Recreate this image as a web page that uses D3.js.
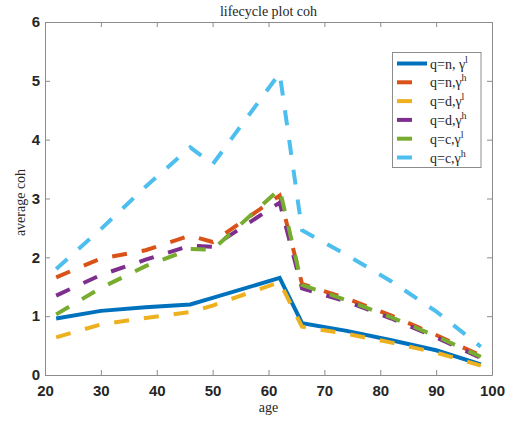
<!DOCTYPE html>
<html>
<head>
<meta charset="utf-8">
<script src="https://cdn.jsdelivr.net/npm/d3@7"></script>
<style>
  body { margin: 0; background: #fff; }
  .tick text { font-family: "Liberation Sans", Arial, sans-serif; font-weight: bold; font-size: 15px; fill: #262626; }
  .tick line, .domain { stroke: #8c8c8c; }
</style>
</head>
<body>
<svg id="chart" width="515" height="421"></svg>
<script>
// ages at which the model is reported
const ages = [22, 30, 38, 46, 50, 62, 66, 74, 82, 90, 98];

// average coh per group
const nLow  = [0.96, 1.09, 1.15, 1.20, 1.31, 1.65, 0.88, 0.75, 0.59, 0.42, 0.18];
const nHigh = [1.66, 1.98, 2.12, 2.37, 2.26, 3.05, 1.55, 1.30, 1.01, 0.68, 0.33];
const dLow  = [0.64, 0.86, 0.97, 1.07, 1.18, 1.58, 0.82, 0.70, 0.55, 0.38, 0.16];
const dHigh = [1.35, 1.70, 1.96, 2.20, 2.18, 2.93, 1.47, 1.25, 0.96, 0.64, 0.29];
const cLow  = [1.03, 1.48, 1.85, 2.14, 2.13, 3.16, 1.53, 1.27, 0.98, 0.66, 0.31];
const cHigh = [1.80, 2.48, 3.20, 3.87, 3.58, 5.13, 2.46, 2.04, 1.59, 1.08, 0.48];

const labels = [["q=n, γ", "l"], ["q=n,γ", "h"], ["q=d,γ", "l"], ["q=d,γ", "h"], ["q=c,γ", "l"], ["q=c,γ", "h"]];
const colors = ["#0072BD", "#D95319", "#EDB120", "#7E2F8E", "#77AC30", "#4DBEEE"];
const dashed = [false, true, true, true, true, true];

const xTicks = [20, 30, 40, 50, 60, 70, 80, 90, 100];
const yTicks = [0, 1, 2, 3, 4, 5, 6];

const series = [nLow, nHigh, dLow, dHigh, cLow, cHigh].map((vals, i) => ({
  label: labels[i], color: colors[i], dashed: dashed[i],
  points: ages.map((a, j) => ({ age: a, v: vals[j] }))
}));

const mLeft = 45, mRight = 492, mTop = 22, mBottom = 375;
const svg = d3.select("#chart");

const x = d3.scaleLinear().domain([20, 100]).range([mLeft, mRight]);
const y = d3.scaleLinear().domain([0, 6]).range([mBottom, mTop]);

// axes with inward ticks on all four sides
svg.append("g").attr("transform", `translate(0,${mBottom})`)
  .call(d3.axisBottom(x).tickValues(xTicks).tickFormat(d3.format("d"))
    .tickSizeInner(-5).tickSizeOuter(0).tickPadding(10));
svg.append("g").attr("transform", `translate(${mLeft},0)`)
  .call(d3.axisLeft(y).tickValues(yTicks).tickFormat(d3.format("d"))
    .tickSizeInner(-5).tickSizeOuter(0).tickPadding(5));
svg.append("g").attr("transform", `translate(0,${mTop})`)
  .call(d3.axisTop(x).tickValues(xTicks).tickSizeInner(-5).tickSizeOuter(0).tickFormat(""));
svg.append("g").attr("transform", `translate(${mRight},0)`)
  .call(d3.axisRight(y).tickValues(yTicks).tickSizeInner(-5).tickSizeOuter(0).tickFormat(""));

const line = d3.line().x(d => x(d.age)).y(d => y(d.v));

svg.append("g").selectAll("path")
  .data(series)
  .enter()
  .append("path")
  .attr("d", d => line(d.points))
  .attr("fill", "none")
  .attr("stroke", d => d.color)
  .attr("stroke-width", 4)
  .attr("stroke-dasharray", d => d.dashed ? "15,15" : null);

// titles
svg.append("text")
  .attr("x", (mLeft + mRight) / 2).attr("y", 16)
  .attr("text-anchor", "middle")
  .style("font-family", "Liberation Serif, serif").style("font-size", "14px").style("fill", "#262626")
  .text("lifecycle plot coh");

svg.append("text")
  .attr("x", (mLeft + mRight) / 2).attr("y", 412)
  .attr("text-anchor", "middle")
  .style("font-family", "Liberation Serif, serif").style("font-size", "14px").style("fill", "#262626")
  .text("age");

svg.append("text")
  .attr("transform", `translate(25,${(mTop + mBottom) / 2 + 4}) rotate(-90)`)
  .attr("text-anchor", "middle")
  .style("font-family", "Liberation Serif, serif").style("font-size", "14px").style("fill", "#262626")
  .text("average coh");

// legend
const lg = svg.append("g");
lg.append("rect")
  .attr("x", 392.5).attr("y", 52.5).attr("width", 88.5).attr("height", 115)
  .attr("fill", "#fff").attr("stroke", "#8c8c8c").attr("stroke-width", 1);

const rows = lg.selectAll("g.row")
  .data(series)
  .enter()
  .append("g")
  .attr("transform", (d, i) => `translate(0,${63.5 + i * 18.8})`);

rows.append("line")
  .attr("x1", 397).attr("x2", 427)
  .attr("stroke", d => d.color)
  .attr("stroke-width", 4)
  .attr("stroke-dasharray", d => d.dashed ? "15,15" : null);

const lt = rows.append("text")
  .attr("x", 430).attr("y", 5)
  .style("font-family", "Liberation Serif, serif").style("font-size", "14px").style("fill", "#262626");
lt.append("tspan").text(d => d.label[0]);
lt.append("tspan").attr("dy", -6).style("font-size", "10px").text(d => d.label[1]);
</script>
</body>
</html>
